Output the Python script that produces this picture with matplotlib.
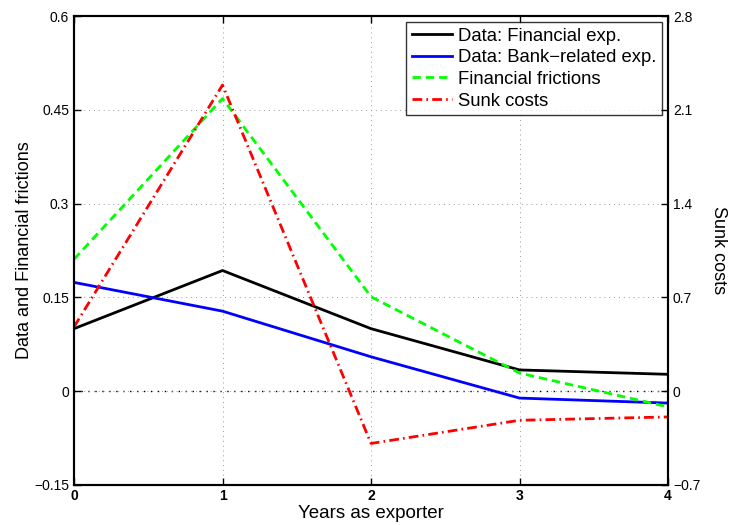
import matplotlib
matplotlib.use('Agg')
import matplotlib.pyplot as plt

plt.rcParams['font.family'] = ['Liberation Sans', 'DejaVu Sans']

years = [0, 1, 2, 3, 4]
data_fin = [0.100, 0.193, 0.100, 0.034, 0.027]
data_bank = [0.174, 0.128, 0.055, -0.011, -0.019]
fin_frictions = [0.211, 0.468, 0.151, 0.029, -0.025]
sunk_costs = [0.48, 2.285, -0.39, -0.217, -0.192]

left_ticks = [-0.15, 0, 0.15, 0.3, 0.45, 0.6]
right_ticks = [-0.7, 0, 0.7, 1.4, 2.1, 2.8]

fig = plt.figure(figsize=(7.3, 5.25), dpi=100)
ax = fig.add_axes([0.1014, 0.0762, 0.8137, 0.8933])
ax2 = ax.twinx()

l1, = ax.plot(years, data_fin, color='black', lw=2, label='Data: Financial exp.')
l2, = ax.plot(years, data_bank, color='blue', lw=2, label='Data: Bank\u2212related exp.')
l3, = ax.plot(years, fin_frictions, color='#00ff00', lw=2, ls=(0, (3, 1.8)),
              label='Financial frictions')
l4, = ax2.plot(years, sunk_costs, color='red', lw=2, ls=(0, (3.5, 1.5, 0.6, 1.5)),
               label='Sunk costs')

ax.axhline(0, color='black', lw=1, ls=(0, (1, 4)), zorder=1)

ax.set_xlim(0, 4)
ax.set_ylim(-0.15, 0.6)
ax2.set_ylim(-0.7, 2.8)
ax.set_xticks(years)
ax.set_yticks(left_ticks)
ax.set_yticklabels(['\u22120.15', '0', '0.15', '0.3', '0.45', '0.6'])
ax2.set_yticks(right_ticks)
ax2.set_yticklabels(['\u22120.7', '0', '0.7', '1.4', '2.1', '2.8'])

ax.grid(True, color='#999999', ls=(0, (1, 4)), lw=0.7)
for a in (ax, ax2):
    a.tick_params(direction='in', length=5, labelsize=10, width=1)
    for s in a.spines.values():
        s.set_linewidth(1.5)
ax.tick_params(axis='x', pad=3, top=True)
for t in ax.get_xticklabels():
    t.set_fontweight('bold')

ax.set_xlabel('Years as exporter', fontsize=13.5, labelpad=1)
ax.set_ylabel('Data and Financial frictions', fontsize=13, labelpad=1)
ax2.set_ylabel('Sunk costs', fontsize=13, rotation=-90, labelpad=19)

leg = ax.legend(handles=[l1, l2, l3, l4], loc='upper right', fontsize=13.3,
                frameon=True, fancybox=False, handlelength=2.2, handletextpad=0.3,
                borderaxespad=0.33, labelspacing=0.25, borderpad=0.3)
leg.get_frame().set_edgecolor('black')
leg.get_frame().set_linewidth(1)

fig.savefig('out.png', dpi=100)
